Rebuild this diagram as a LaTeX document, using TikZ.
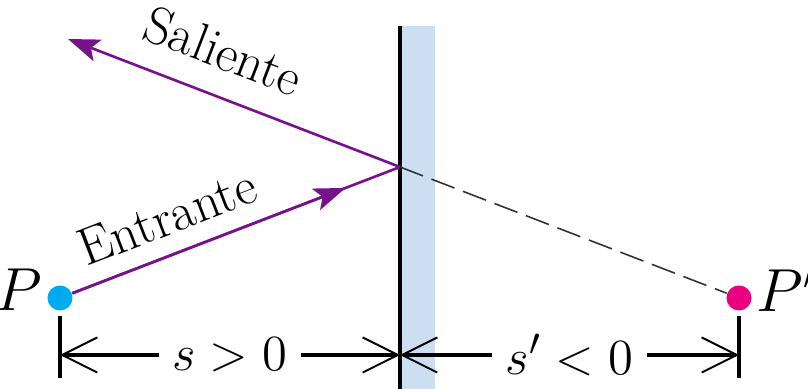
\documentclass[tikz,border=0pt]{standalone}
\usepackage{tikz}
\usetikzlibrary{arrows.meta, positioning, calc}
\definecolor{cRay}{RGB}{118,18,138}
\definecolor{cMirror}{RGB}{204,222,242}
\definecolor{cPointP}{RGB}{0,170,238}
\definecolor{cPointQ}{RGB}{232,0,126}
\definecolor{cDash}{RGB}{50,50,50}
\tikzset{
  raytip/.tip={Stealth[length=9pt, width=6.5pt, inset=2pt]},
  ray/.style={line width=0.75pt, color=cRay},
  dashray/.style={line width=0.45pt, color=cDash, dash pattern=on 7pt off 2.6pt},
  mirrorline/.style={line width=1.1pt, black},
  tickline/.style={line width=1pt, black},
  dimline/.style={line width=1pt, black,
                  {Straight Barb[length=10pt, width=10pt, line width=0.55pt]}-{Straight Barb[length=10pt, width=10pt, line width=0.55pt]}},
  dimlabel/.style={fill=white, inner xsep=4pt, inner ysep=1pt, font=\fontsize{15.5}{18}\selectfont},
  raylabel/.style={sloped, inner sep=1pt, text=black, font=\fontsize{15}{18}\selectfont},
  ptlabel/.style={inner sep=1pt, font=\fontsize{16}{19}\selectfont},
  pointdot/.style={circle, inner sep=0pt, minimum size=0.25cm}
}

\begin{document}
\begin{tikzpicture}[x=0.01cm, y=-0.01cm]

  \useasboundingbox (0,0) rectangle (808,389);

  % Mirror
  \fill[cMirror] (401,26) rectangle (435,389);
  \coordinate (mtop) at (400,26);
  \coordinate (mbot) at (400,389);
  \draw[mirrorline] (mtop) -- (mbot);

  % Object and image points
  \node[pointdot, fill=cPointP] (P) at (60,298) {};
  \node[pointdot, fill=cPointQ] (Pq) at (739,298) {};
  \node[ptlabel, left=0pt of P, yshift=2.3pt] (Plab) {$P$};
  \node[ptlabel, right=0pt of Pq, yshift=2.3pt] (Pqlab) {$P'$};

  % Rays
  \coordinate (hit) at (400,167);
  \coordinate (out) at (68,39);
  \draw[ray] (P) -- node[raylabel, above=4pt, pos=0.33] {Entrante} (hit);
  \draw[ray, -raytip] (P) -- ($(P)!0.84!(hit)$);
  \draw[ray, -raytip] (hit) -- node[raylabel, above=6pt, pos=0.58] {Saliente} (out);
  \draw[dashray] (hit) -- (Pq);

  % Distances
  \coordinate (tickPa) at (60,316);
  \coordinate (tickPb) at (60,378);
  \coordinate (tickQa) at (739,316);
  \coordinate (tickQb) at (739,378);
  \draw[tickline] (tickPa) -- (tickPb);
  \draw[tickline] (tickQa) -- (tickQb);
  \coordinate (dimL) at (60,355);
  \coordinate (dimM) at (400,355);
  \coordinate (dimR) at (739,355);
  \draw[dimline] (dimL) -- node[dimlabel] {$s > 0$} (dimM);
  \draw[dimline] (dimM) -- node[dimlabel] {$s' < 0$} (dimR);

\end{tikzpicture}
\end{document}
